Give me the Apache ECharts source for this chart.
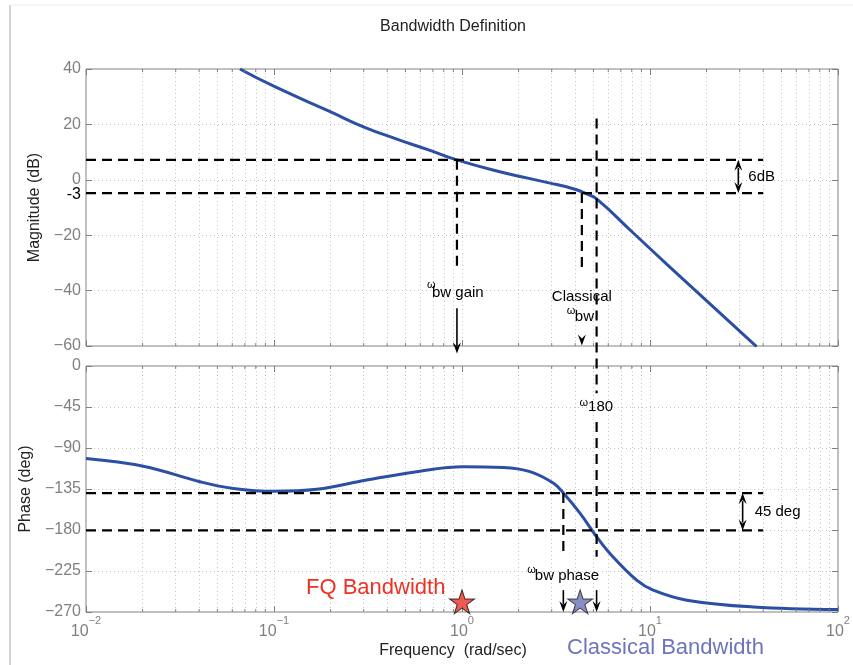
<!DOCTYPE html>
<html><head><meta charset="utf-8">
<script src="https://cdn.jsdelivr.net/npm/echarts@6/dist/echarts.min.js"></script>
<style>html,body{margin:0;padding:0;background:#fff}#c{width:853px;height:665px}</style>
</head><body><div id="c"></div>
<script>
// ---------------- data ----------------
const magFreq  = [0.0659, 0.101, 0.199, 0.299, 0.450, 0.676, 0.938, 1.59, 2.24, 2.94, 3.55, 4.07, 4.60, 5.20, 8.15, 12.3, 36.9];
const magDb    = [40, 33.6, 24.6, 19.1, 14.7, 10.6, 7.2, 2.9, 0.6, -1.2, -2.4, -3.6, -5.1, -6.9, -19.2, -30.5, -60.2];
const phaseFreq = [0.01, 0.0202, 0.0404, 0.0608, 0.1, 0.169, 0.311, 0.598, 1.016, 1.66, 2.30, 3.07, 3.47, 4.25, 5.20, 6.12, 8.49, 10.4, 15.7, 35.4, 100];
const phaseDeg  = [-101.5, -110, -127, -134.4, -137.6, -135.4, -125.2, -115.4, -110.7, -111.4, -116, -128.8, -139.7, -161.8, -187.4, -205.7, -235, -246, -257, -264.5, -267.3];
const magTicks = {min: -60, max: 40, interval: 20};
const phaseTicks = {min: -270, max: 0, interval: 45};
const freqRange = {min: 0.01, max: 100};
const minorMult = [2, 3, 4, 5, 6, 7, 8, 9];
const decades = [0.01, 0.1, 1, 10];
// annotation values (data units)
const magLevels = [7.2, -4.8];          // dB dashed levels
const phaseLevels = [-139.5, -180.5];   // deg dashed levels
const levelEndFreq = 40;
const wGain = 0.94, wClassical = 4.34, w180 = 5.2, wPhase = 3.46;
const dbArrowFreq = 29.5, degArrowFreq = 31.1;
const starFreq = [1, 4.25];
const starPhase = [-258.8, -258.8];

// ---------------- style ----------------
const FONT = '"Liberation Sans", Arial, Helvetica, sans-serif';
const frameColor = '#808080';
const gridColor = '#c4c4c4';
const labelGray = '#808080';
const curveColor = '#2b4fa3';
const STAR = 'path://M50,0 L61.2,34.5 L97.6,34.5 L68.2,55.9 L79.4,90.5 L50,69.1 L20.6,90.5 L31.8,55.9 L2.4,34.5 L38.8,34.5 Z';

const minorX = [];
decades.forEach(d => minorMult.forEach(k => minorX.push(+(k * d).toPrecision(3))));

function xAxisDef(gi, pos, labels) {
  return {
    type: 'log', logBase: 10, min: freqRange.min, max: freqRange.max, gridIndex: gi, position: pos,
    axisLine: {show: false, onZero: false},
    axisTick: {show: true, inside: true, length: 6, lineStyle: {color: frameColor}},
    splitLine: {show: pos === 'bottom', lineStyle: {color: gridColor, type: [1, 3], width: 1}},
    axisLabel: labels ? {
      show: true, margin: 3,
      formatter: v => '{b|10}{e|' + String(Math.round(Math.log10(v))).replace('-', '−') + '}',
      rich: {
        b: {fontSize: 16, lineHeight: 34, color: labelGray, fontFamily: FONT},
        e: {fontSize: 11, lineHeight: 11, verticalAlign: 'top', color: labelGray, fontFamily: FONT}
      }
    } : {show: false}
  };
}
function yAxisDef(gi, pos, t, labels, name, gap) {
  return {
    type: 'value', gridIndex: gi, position: pos, min: t.min, max: t.max, interval: t.interval,
    axisLine: {show: false, onZero: false},
    axisTick: {show: true, inside: true, length: 6, lineStyle: {color: frameColor}},
    splitLine: {show: pos === 'left', lineStyle: {color: gridColor, type: [1, 3], width: 1}},
    axisLabel: labels ? {show: true, margin: 5, color: labelGray, fontSize: 16, fontFamily: FONT,
      formatter: v => String(v).replace('-', '−')} : {show: false},
    name: name || '', nameLocation: 'middle', nameGap: gap || 0,
    nameTextStyle: {color: '#222', fontSize: 16, fontFamily: FONT}
  };
}

const chart = echarts.init(document.getElementById('c'));
chart.setOption({
  animation: false,
  backgroundColor: '#ffffff',
  grid: [
    {left: 86, right: 15, top: 69, height: 277, show: true, borderColor: frameColor, borderWidth: 1, backgroundColor: 'transparent'},
    {left: 86, right: 15, top: 366, height: 246, show: true, borderColor: frameColor, borderWidth: 1, backgroundColor: 'transparent'}
  ],
  xAxis: [xAxisDef(0, 'bottom', false), xAxisDef(1, 'bottom', true), xAxisDef(0, 'top', false), xAxisDef(1, 'top', false)],
  yAxis: [
    yAxisDef(0, 'left', magTicks, true, 'Magnitude (dB)', 39),
    yAxisDef(1, 'left', phaseTicks, true, 'Phase (deg)', 51),
    yAxisDef(0, 'right', magTicks, false),
    yAxisDef(1, 'right', phaseTicks, false)
  ],
  series: [
    {
      type: 'line', name: 'Magnitude', xAxisIndex: 0, yAxisIndex: 0,
      data: magFreq.map((f, i) => [f, magDb[i]]),
      showSymbol: false, symbol: 'none', smooth: 0.5, z: 3, silent: true,
      lineStyle: {color: curveColor, width: 3},
      markLine: {silent: true, z: 1, symbol: ['none', 'none'], label: {show: false}, animation: false,
        lineStyle: {color: gridColor, type: [1, 3], width: 1}, emphasis: {disabled: true},
        data: minorX.map(v => ({xAxis: v}))}
    },
    {
      type: 'line', name: 'Phase', xAxisIndex: 1, yAxisIndex: 1,
      data: phaseFreq.map((f, i) => [f, phaseDeg[i]]),
      showSymbol: false, symbol: 'none', smooth: 0.4, z: 3, silent: true,
      lineStyle: {color: curveColor, width: 3},
      markLine: {silent: true, z: 1, symbol: ['none', 'none'], label: {show: false}, animation: false,
        lineStyle: {color: gridColor, type: [1, 3], width: 1}, emphasis: {disabled: true},
        data: minorX.map(v => ({xAxis: v}))}
    },
    {
      type: 'scatter', name: 'Bandwidth markers', xAxisIndex: 1, yAxisIndex: 1, clip: false, silent: true, z: 8,
      symbol: STAR, symbolSize: [25, 24],
      data: [
        {value: [starFreq[0], starPhase[0]], itemStyle: {color: '#ee3124', borderColor: '#111', borderWidth: 1}},
        {value: [starFreq[1], starPhase[1]], itemStyle: {color: '#6a72b7', borderColor: '#222', borderWidth: 1}}
      ]
    }
  ]
});

// ---------------- annotations (positions via the chart's own scales) ----------------
const P = (gi, f, v) => chart.convertToPixel({gridIndex: gi}, [f, v]);
const G = [];
const dash = {stroke: '#000', lineWidth: 2.2, lineDash: [10, 6]};
function dline(a, b) { G.push({type: 'line', z: 10, silent: true, shape: {x1: a[0], y1: a[1], x2: b[0], y2: b[1]}, style: dash}); }
function sline(a, b) { G.push({type: 'line', z: 10, silent: true, shape: {x1: a[0], y1: a[1], x2: b[0], y2: b[1]}, style: {stroke: '#000', lineWidth: 1.6}}); }
function head(x, y, dir) { // dir 1: down tip at y, -1: up tip at y
  G.push({type: 'polygon', z: 10, silent: true, shape: {points: [[x - 4, y - 11 * dir], [x, y - 7 * dir], [x + 4, y - 11 * dir], [x, y]]}, style: {fill: '#000'}});
}
function txt(x, y, s, size, color, align) {
  G.push({type: 'text', z: 11, silent: true, x: x, y: y,
    style: {text: s, font: size + 'px ' + FONT, fill: color || '#000', align: align || 'left', verticalAlign: 'middle'}});
}
// horizontal levels
magLevels.forEach(L => dline(P(0, freqRange.min, L), P(0, levelEndFreq, L)));
phaseLevels.forEach(L => dline(P(1, freqRange.min, L), P(1, levelEndFreq, L)));
// omega bw gain
dline(P(0, wGain, magLevels[0]), P(0, wGain, -32));
sline(P(0, wGain, -46.4), P(0, wGain, -60));
head(P(0, wGain, 0)[0], P(0, wGain, -62.7)[1], 1);
// classical omega bw
dline(P(0, wClassical, magLevels[1]), P(0, wClassical, -33.4));
head(P(0, wClassical, 0)[0], P(0, wClassical, -59.8)[1], 1);
// omega 180 (spans both plots)
dline(P(0, w180, 22.1), P(1, w180, -29.9));
dline(P(1, w180, -61.4), P(1, w180, -209.4));
sline(P(1, w180, -245.9), P(1, w180, -262));
head(P(1, w180, 0)[0], P(1, w180, -270)[1], 1);
// omega bw phase
dline(P(1, wPhase, phaseLevels[0]), P(1, wPhase, -205));
sline(P(1, wPhase, -246), P(1, wPhase, -262));
head(P(1, wPhase, 0)[0], P(1, wPhase, -270)[1], 1);
// double arrows
(function () {
  const a = P(0, dbArrowFreq, magLevels[0]), b = P(0, dbArrowFreq, magLevels[1]);
  sline([a[0], a[1] + 8], [b[0], b[1] - 8]); head(a[0], a[1], -1); head(b[0], b[1], 1);
  txt(a[0] + 10, (a[1] + b[1]) / 2, '6dB', 15);
  const c = P(1, degArrowFreq, phaseLevels[0]), d = P(1, degArrowFreq, phaseLevels[1]);
  sline([c[0], c[1] + 8], [d[0], d[1] - 8]); head(c[0], c[1], -1); head(d[0], d[1], 1);
  txt(c[0] + 12, (c[1] + d[1]) / 2, '45 deg', 15);
})();
// labels
(function () {
  const g = P(0, wGain, -40);
  txt(g[0] - 30, g[1] - 6, 'ω', 11); txt(g[0] - 25, g[1] + 2.5, 'bw gain', 15);
  const c = P(0, wClassical, -41.7);
  txt(c[0], c[1] + 1.5, 'Classical', 15, '#000', 'center');
  txt(c[0] - 15, c[1] + 16, 'ω', 11); txt(c[0] - 7, c[1] + 21.5, 'bw', 15);
  const w = P(1, w180, -43);
  txt(w[0] - 17, w[1] - 2, 'ω', 11); txt(w[0] - 8.5, w[1] + 2, '180', 15);
  const p = P(1, wPhase, -229.5);
  txt(p[0] - 36, p[1] - 5, 'ω', 11); txt(p[0] - 28.5, p[1] + 0.5, 'bw phase', 15);
  const m3 = P(0, freqRange.min, magLevels[1]);
  txt(m3[0] - 5, m3[1] + 1, '-3', 16, '#000', 'right');
})();
// title, x label, bandwidth captions, frame
txt(453, 27, 'Bandwidth Definition', 16, '#222', 'center');
txt(453, 651, 'Frequency  (rad/sec)', 16, '#222', 'center');
txt(306, 588, 'FQ Bandwidth', 22, '#ee3124', 'left');
txt(567, 648, 'Classical Bandwidth', 22, '#6d75ba', 'left');
G.push({type: 'line', z: 0, silent: true, shape: {x1: 10, y1: 5, x2: 10, y2: 665}, style: {stroke: '#d4d4d4', lineWidth: 2}});
G.push({type: 'line', z: 0, silent: true, shape: {x1: 10, y1: 5, x2: 853, y2: 5}, style: {stroke: '#ececec', lineWidth: 1}});
// minor ticks on both plots' top and bottom edges
[0, 1].forEach(gi => {
  const yr = gi === 0 ? magTicks : phaseTicks;
  minorX.forEach(v => {
    const b = P(gi, v, yr.min), t = P(gi, v, yr.max);
    G.push({type: 'line', z: 5, silent: true, shape: {x1: b[0], y1: b[1], x2: b[0], y2: b[1] - 3}, style: {stroke: frameColor, lineWidth: 1}});
    G.push({type: 'line', z: 5, silent: true, shape: {x1: t[0], y1: t[1], x2: t[0], y2: t[1] + 3}, style: {stroke: frameColor, lineWidth: 1}});
  });
});
chart.setOption({graphic: G});
</script></body></html>
